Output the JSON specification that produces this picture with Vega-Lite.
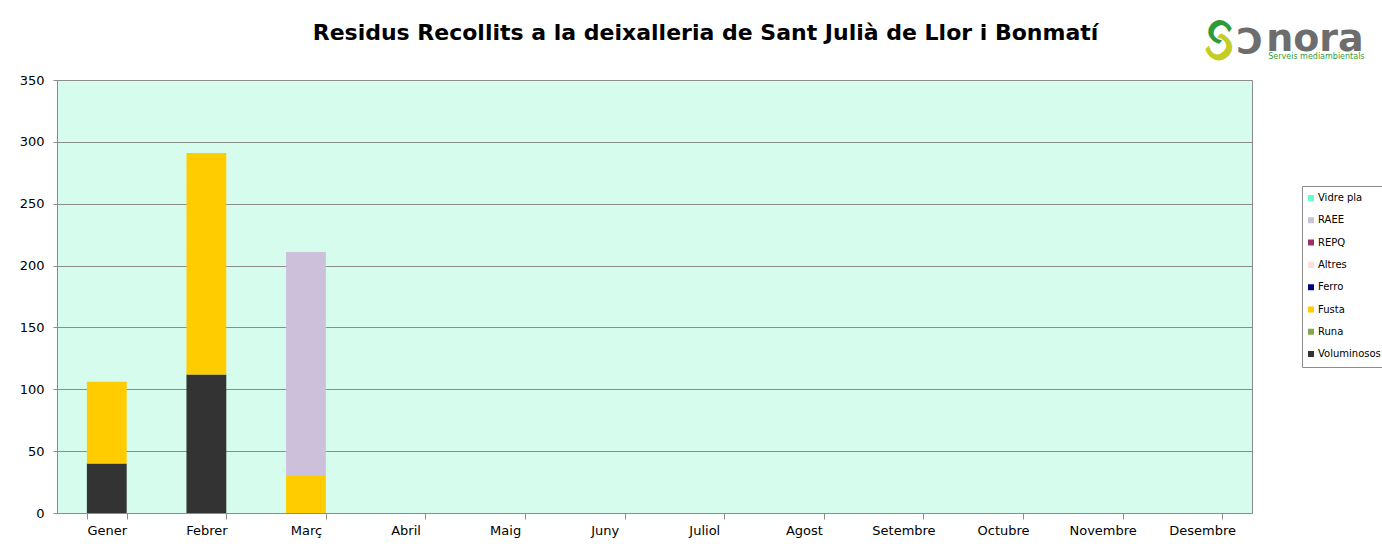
{
  "$schema": "https://vega.github.io/schema/vega-lite/v6.json",
  "autosize": {"type": "none"},
  "width": 1195,
  "height": 433,
  "padding": {"left": 57, "top": 80, "right": 130, "bottom": 31},
  "background": "white",
  "title": {
    "text": "Residus Recollits a la deixalleria de Sant Julià de Llor i Bonmatí",
    "font": "DejaVu Sans",
    "fontSize": 22,
    "fontWeight": "bold",
    "color": "#000000",
    "anchor": "middle",
    "dx": 51,
    "offset": -32
  },
  "config": {
    "view": {"fill": "#d6fcee", "stroke": "#8c8c8c", "strokeWidth": 1},
    "font": "DejaVu Sans"
  },
  "datasets": {
    "residus": [
      {"mes": "Gener", "residu": "Voluminosos", "tones": 40},
      {"mes": "Gener", "residu": "Fusta", "tones": 66},
      {"mes": "Febrer", "residu": "Voluminosos", "tones": 112},
      {"mes": "Febrer", "residu": "Fusta", "tones": 179},
      {"mes": "Març", "residu": "Fusta", "tones": 30},
      {"mes": "Març", "residu": "RAEE", "tones": 181}
    ],
    "logo": [{"nom": "nora", "lema": "Serveis mediambientals"}]
  },
  "layer": [
    {
      "data": {"name": "residus"},
      "transform": [
        {"calculate": "indexof(['Voluminosos','Runa','Fusta','Ferro','Altres','REPQ','RAEE','Vidre pla'], datum.residu)", "as": "ordre"}
      ],
      "mark": {"type": "bar"},
      "encoding": {
        "x": {
          "field": "mes",
          "type": "nominal",
          "sort": null,
          "scale": {
            "domain": ["Gener", "Febrer", "Març", "Abril", "Maig", "Juny", "Juliol", "Agost", "Setembre", "Octubre", "Novembre", "Desembre"],
            "paddingInner": 0.6,
            "paddingOuter": 0.3
          },
          "axis": {
            "title": null,
            "labelAngle": 0,
            "labelFontSize": 13,
            "labelColor": "#000000",
            "labelPadding": 5,
            "tickBand": "extent",
            "tickSize": 6,
            "tickColor": "#8c8c8c",
            "domainColor": "#8c8c8c",
            "grid": false
          }
        },
        "y": {
          "field": "tones",
          "type": "quantitative",
          "stack": "zero",
          "scale": {"domain": [0, 350], "nice": false},
          "axis": {
            "title": null,
            "values": [0, 50, 100, 150, 200, 250, 300, 350],
            "labelFontSize": 13,
            "labelColor": "#000000",
            "labelPadding": 9,
            "tickSize": 4,
            "tickColor": "#8c8c8c",
            "domainColor": "#8c8c8c",
            "grid": true,
            "gridColor": "#8c8c8c",
            "gridWidth": 1
          }
        },
        "color": {
          "field": "residu",
          "type": "nominal",
          "scale": {
            "domain": ["Vidre pla", "RAEE", "REPQ", "Altres", "Ferro", "Fusta", "Runa", "Voluminosos"],
            "range": ["#66ffcc", "#ccc0da", "#993366", "#ffdddd", "#000080", "#ffcc00", "#86a44a", "#333333"]
          },
          "legend": {
            "title": null,
            "orient": "none",
            "legendX": 1245,
            "legendY": 106,
            "strokeColor": "#8c8c8c",
            "fillColor": "#ffffff",
            "padding": 4,
            "symbolType": "square",
            "symbolSize": 36,
            "symbolStrokeWidth": 0,
            "symbolOpacity": 1,
            "labelFontSize": 10,
            "labelColor": "#000000",
            "labelOffset": 2,
            "clipHeight": 16,
            "rowPadding": 6.3
          }
        },
        "order": {"field": "ordre", "type": "quantitative", "sort": "ascending"}
      }
    },
    {
      "data": {"name": "logo"},
      "mark": {"type": "text", "text": "C", "font": "DejaVu Sans", "fontWeight": "bold", "fontSize": 30, "color": "#2e9a3a", "align": "center", "baseline": "middle", "angle": 40, "dx": -19.4, "dy": -46.4},
      "encoding": {"x": {"datum": "Desembre"}, "y": {"datum": 350}}
    },
    {
      "data": {"name": "logo"},
      "mark": {"type": "text", "text": "C", "font": "DejaVu Sans", "fontWeight": "bold", "fontSize": 34, "color": "#c5cc22", "align": "center", "baseline": "middle", "angle": 225, "dx": 9.2, "dy": 37.5},
      "encoding": {"x": {"datum": "Desembre"}, "y": {"datum": 350}}
    },
    {
      "data": {"name": "logo"},
      "mark": {"type": "text", "text": "C", "font": "DejaVu Sans", "fontWeight": "bold", "fontSize": 36, "color": "#6d6d6d", "align": "center", "baseline": "middle", "angle": 180, "dx": -47, "dy": 41},
      "encoding": {"x": {"datum": "Desembre"}, "y": {"datum": 350}}
    },
    {
      "data": {"name": "logo"},
      "mark": {"type": "text", "font": "DejaVu Sans", "fontWeight": "bold", "fontSize": 38, "color": "#6d6d6d", "align": "left", "baseline": "alphabetic", "dx": 64, "dy": -29},
      "encoding": {"x": {"datum": "Desembre"}, "y": {"datum": 350}, "text": {"field": "nom"}}
    },
    {
      "data": {"name": "logo"},
      "mark": {"type": "text", "font": "DejaVu Sans", "fontSize": 8, "color": "#3a9a3a", "align": "left", "baseline": "alphabetic", "dx": 66, "dy": -21},
      "encoding": {"x": {"datum": "Desembre"}, "y": {"datum": 350}, "text": {"field": "lema"}}
    }
  ]
}
